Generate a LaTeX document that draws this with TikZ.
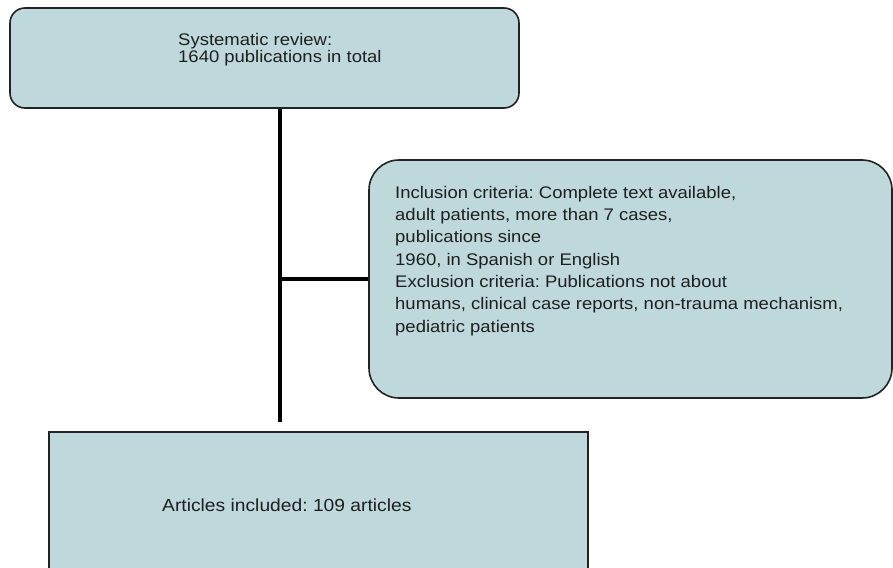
\documentclass[tikz,border=0pt]{standalone}
\usepackage{fontspec}
\setmainfont[FakeStretch=1.1]{Liberation Sans}
\usetikzlibrary{positioning}

\definecolor{boxfill}{RGB}{190,216,220}
\definecolor{boxline}{RGB}{35,35,35}
\frenchspacing

\begin{document}
\begin{tikzpicture}[x=1pt,y=-1pt,
    box/.style={draw=boxline, line width=1.6pt, fill=boxfill, inner sep=0pt},
    txt/.style={align=left, inner sep=0pt, text=black!88},
    link/.style={line width=4pt}]
        \useasboundingbox (0,0) rectangle (893,567);
        \clip (0,0) rectangle (893,567);
        % boxes
        \node[box, rounded corners=15, minimum width=509, minimum height=100] (review) at (264.5,58) {};
        \node[box, rounded corners=30, minimum width=523, minimum height=238] (criteria) at (630.5,279) {};
        \node[box, minimum width=539, minimum height=180] (included) at (318.5,522) {};
        % texts
        \node[txt, anchor=north west, font=\fontsize{16.8}{17}\selectfont] (reviewtxt) at (178,33)
            {Systematic review:\\1640 publications in total};
        \node[txt, anchor=north west, font=\fontsize{16.8}{22.3}\selectfont] (criteriatxt) at (395,186)
            {Inclusion criteria: Complete text available,\\
             adult patients, more than 7 cases,\\
             publications since\\
             1960, in Spanish or English\\
             Exclusion criteria: Publications not about\\
             humans, clinical case reports, non-trauma mechanism,\\
             pediatric patients};
        \node[txt, anchor=north west, font=\fontsize{17.5}{20}\selectfont] (includedtxt) at (162,499)
            {Articles included: 109 articles};
        % lines
        \coordinate (stemend) at (280,422);
        \draw[link] (review.south -| stemend) -- (stemend);
        \draw[link] (stemend |- criteria.west) -- (criteria.west);
    \end{tikzpicture}
\end{document}
